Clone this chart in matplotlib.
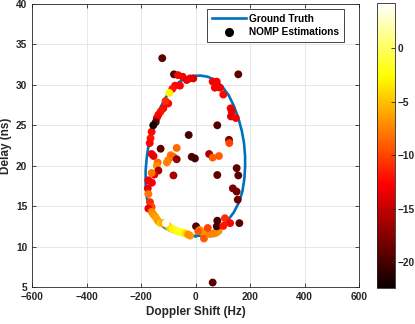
import matplotlib
matplotlib.use("Agg")
import matplotlib.pyplot as plt
from matplotlib.lines import Line2D
import numpy as np

plt.rcParams['font.family'] = ['Liberation Sans', 'DejaVu Sans']
plt.rcParams['font.weight'] = 'bold'

# Ground truth trajectory (Doppler Hz, delay ns)
gt_doppler = [0, 30, 60, 90, 115, 140, 160, 172, 179, 182, 182, 178, 170, 158, 142, 122, 98, 72, 45, 18,
              -8, -35, -62, -88, -110, -130, -148, -162, -172, -179, -183, -183, -180, -172, -158, -138,
              -112, -82, -52, -25, 0]
gt_delay = [11.3, 11.4, 11.8, 12.4, 13.1, 14.2, 15.5, 16.8, 18.3, 19.8, 21.2, 22.8, 24.3, 25.8, 27.3, 28.7,
            29.8, 30.6, 31.0, 31.15, 31.1, 30.85, 30.3, 29.5, 28.4, 27.1, 25.6, 24.1, 22.6, 21.0, 19.4,
            17.8, 16.3, 15.0, 13.9, 13.0, 12.3, 11.8, 11.5, 11.35, 11.3]

# NOMP estimations: doppler, delay, value (colour)
est_doppler = [-122, -79, -64, -47, -32, -20, -8, -57, -75, -85, -100, -110, -118, -128, -136, -142, -146,
               -161, -165, -168, -128, -25, -161, -154, -69, -91, -81, -100, -105, -139, -142, -69, -14, -2,
               -136, -151, -161, -81, -173, -160, -175, -173, -167, -161, -173,
               -161, -155, -148, -142, -136, -128, -118, -102, -94, -85, -75, -65, -55, -45, -36, -20, -27,
               2, 16, 29, 31, 40, 53, 65, 75, 84, 80, 78, 102, 108, 127, 161, 63, 10, 45,
               157, 63, 78, 71, 90, 102, 129, 133, 130, 148, 80, 123, 124, 50, 63, 86, 151, 80, 157, 137,
               151, 155, -96, -155, -109]
est_delay = [33.3, 31.3, 31.2, 31.0, 30.6, 30.8, 30.8, 29.9, 29.9, 29.5, 27.7, 28.0, 27.1, 26.7, 26.3, 25.9,
             25.4, 24.2, 23.4, 22.8, 22.1, 23.8, 21.45, 21.2, 22.2, 21.3, 21.1, 20.7, 20.4, 20.4, 20.0, 20.8,
             21.1, 20.9, 19.4, 18.9, 19.1, 18.8, 18.2, 17.9, 17.2, 16.5, 15.5, 14.9, 14.7,
             14.3, 14.0, 13.7, 13.4, 13.1, 12.9, 12.9, 12.6, 12.3, 12.2, 12.0, 11.9, 11.8, 11.7, 11.6,
             11.35, 11.5,
             12.5, 12.05, 11.7, 11.0, 11.85, 11.55, 11.6, 11.7, 11.9, 13.2, 12.5, 12.55, 13.5, 12.9, 12.9,
             5.55, 11.9, 12.3,
             31.3, 30.4, 30.4, 29.65, 29.65, 28.8, 27.1, 26.7, 26.1, 25.9, 25.0, 23.2, 22.8, 21.45, 21.0,
             21.2, 19.7, 18.85, 18.8, 17.2, 16.8, 15.8, 29.0, 25.0, 12.9]
est_value = [-19, -19.5, -13, -13, -13.5, -13, -14, -12.5, -12.5, -12, -12.5, -11, -12.5, -12, -12.5, -13,
             -19, -12.5, -12, -12.5, -19, -20, -13, -13.5, -8.5, -8, -8.5, -8, -7.5, -8.5, -7, -17, -19.5,
             -20, -16, -13.5, -8, -16, -13, -13, -13.5, -8, -11, -10, -13.5,
             -7.5, -7, -6.5, -6, -6.5, -5, -6, -5.5, -4.5, -3, -2.5, -2, -1.5, -2.5, -4, -6.5, -7,
             -19.5, -7, -7, -9, -7, -7.5, -7.5, -7.5, -7, -20, -20, -12, -11, -12.5, -19, -19, -9, -10,
             -19, -13, -13, -13, -13, -12.5, -13, -13.5, -13.5, -13, -19.5, -18, -10, -16, -9, -9, -19,
             -19, -19, -18, -18, -18.5, -3, -22, 3.5]

x_ticks = [-600, -400, -200, 0, 200, 400, 600]
y_ticks = [5, 10, 15, 20, 25, 30, 35, 40]
cbar_ticks = [-20, -15, -10, -5, 0]

axc = (0.15, 0.15, 0.15)
fig = plt.figure(figsize=(4.15, 3.24), dpi=100)
ax = fig.add_axes([32/415, 1-287/324, (359-32)/415, (287-4)/324])
cax = fig.add_axes([377/415, 1-288/324, 18/415, 285/324])

ax.plot(gt_doppler, gt_delay, color='#0072BD', lw=1.9, zorder=2)
sc = ax.scatter(est_doppler, est_delay, c=est_value, cmap='hot', vmin=-22.4, vmax=4.2,
                s=32, edgecolors='none', zorder=3)

ax.set_xlim(-600, 600)
ax.set_ylim(5, 40)
ax.set_xticks(x_ticks)
ax.set_yticks(y_ticks)
ax.grid(True, color='#e3e3e3', lw=0.6)
ax.set_axisbelow(True)
ax.tick_params(direction='in', length=3, width=0.6, colors=axc, labelsize=7.3, top=True, right=True,
               labelcolor=axc)
for lab in ax.get_xticklabels() + ax.get_yticklabels():
    lab.set_fontweight('bold')
for sp in ax.spines.values():
    sp.set_color(axc)
    sp.set_linewidth(0.6)
ax.set_xlabel('Doppler Shift (Hz)', fontsize=8.5, fontweight='bold', color=axc, labelpad=3)
ax.set_ylabel('Delay (ns)', fontsize=8.5, fontweight='bold', color=axc, labelpad=3)

handles = [Line2D([], [], color='#0072BD', lw=1.9),
           Line2D([], [], color='black', marker='o', ls='none', markersize=5.5)]
leg = ax.legend(handles, ['Ground Truth', 'NOMP Estimations'], loc='upper right',
                bbox_to_anchor=((344-32)/327, (287-9)/283),
                prop={'size': 7.3, 'weight': 'bold'}, fancybox=False, framealpha=1,
                edgecolor=axc, borderpad=0.45, handlelength=3.4, handletextpad=0.3,
                labelspacing=0.35, borderaxespad=0.0)
leg.get_frame().set_linewidth(0.6)

cb = fig.colorbar(sc, cax=cax, ticks=cbar_ticks)
cb.ax.tick_params(direction='in', length=3, width=0.6, colors=axc, labelsize=7.3, labelcolor=axc, pad=2)
for lab in cb.ax.get_yticklabels():
    lab.set_fontweight('bold')
cb.outline.set_edgecolor(axc)
cb.outline.set_linewidth(0.6)

fig.savefig('out.png', dpi=100)
